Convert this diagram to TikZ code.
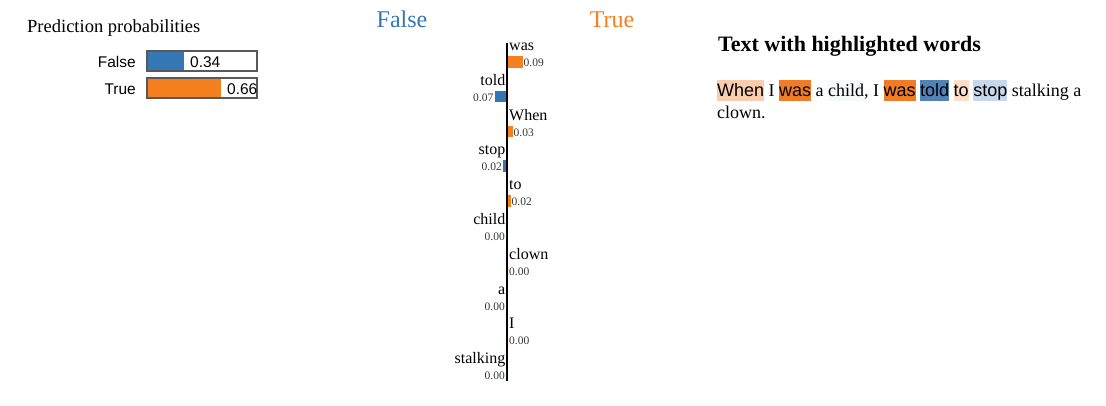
\documentclass[tikz,border=0pt]{standalone}
\usepackage{fontspec}
\setmainfont{Liberation Serif}
\setsansfont{Liberation Sans}
\definecolor{cblue}{RGB}{53,118,180}
\definecolor{corange}{RGB}{245,128,32}
\definecolor{hlWhen}{RGB}{250,205,175}
\definecolor{hlwas}{RGB}{240,124,40}
\definecolor{hlchild}{RGB}{245,248,252}
\definecolor{hltold}{RGB}{80,130,182}
\definecolor{hlto}{RGB}{253,222,198}
\definecolor{hlstop}{RGB}{198,216,234}
\newcommand\hlbox[2]{{\setlength{\fboxsep}{0pt}\colorbox{#1}{\rule[-4.5pt]{0pt}{21pt}#2}}}
\newcommand\hlsans[2]{\hlbox{#1}{\sffamily #2}}
\tikzset{
  sflab/.style={font=\sffamily\fontsize{15.5}{18}\selectfont, inner sep=0pt},
  wordlab/.style={font=\fontsize{16}{19}\selectfont, inner sep=0pt},
  vallab/.style={font=\fontsize{11.5}{13}\selectfont, inner sep=0pt, text=black!80},
  probbox/.style={draw=black!65, line width=1.3pt},
  header/.style={font=\fontsize{24}{28}\selectfont, inner sep=0pt, anchor=base},
}
\begin{document}
\begin{tikzpicture}[x=1pt,y=-1pt]
\useasboundingbox (0,0) rectangle (1106,405);
% ---- prediction probabilities
\node[anchor=base west, inner sep=0pt, font=\fontsize{18.5}{22}\selectfont] (ptitle) at (27,32) {Prediction probabilities};
\node[sflab, anchor=base east] (lfalse) at (136,67.5) {False};
\node[sflab, anchor=base east] (ltrue) at (136,94.5) {True};
\fill[cblue] (147,51) rectangle (184,71);
\draw[probbox] (147,51) rectangle (257,71);
\fill[corange] (147,78) rectangle (221,98);
\draw[probbox] (147,78) rectangle (257,98);
\node[sflab, anchor=base west] (vfalse) at (190,67) {0.34};
\node[sflab, anchor=base west] (vtrue) at (227,94) {0.66};
% ---- explanation chart
\node[header, text=cblue] (hfalse) at (402,27) {False};
\node[header, text=corange] (htrue) at (612,27) {True};
\coordinate (axtop) at (507,43);
\coordinate (axbot) at (507,381);
\draw[line width=2pt] (axtop) -- (axbot);
\foreach \w/\v/\len/\s [count=\i from 0] in {
  was/0.09/14.5/1, told/0.07/11.5/-1, When/0.03/4.5/1, stop/0.02/3/-1, to/0.02/2.5/1,
  child/0.00/0/-1, clown/0.00/0/1, a/0.00/0/-1, I/0.00/0/1, stalking/0.00/0/-1}{
  \pgfmathsetmacro\yt{56+34.8*\i}
  \ifnum\s=1
    \node[wordlab, anchor=base west] (w\i) at (509,\yt-5.5) {\w};
    \fill[corange] (508,\yt) rectangle (508+\len,\yt+11.5);
    \node[vallab, anchor=base west] (v\i) at (509+\len,\yt+10.4) {\v};
  \else
    \node[wordlab, anchor=base east] (w\i) at (505.5,\yt-5.5) {\w};
    \fill[cblue] (506-\len,\yt) rectangle (506,\yt+11.5);
    \node[vallab, anchor=base east] (v\i) at (505-\len,\yt+10.4) {\v};
  \fi
}
% ---- text with highlighted words
\node[anchor=base west, inner sep=0pt, font=\bfseries\fontsize{22}{26}\selectfont] (ttitle) at (718,51.5) {Text with highlighted words};
\node[anchor=base west, inner sep=0pt, font=\fontsize{18}{22}\selectfont] (line1) at (717,96.7)
 {\hlsans{hlWhen}{When} I \hlsans{hlwas}{was} a \hlbox{hlchild}{child}, I \hlsans{hlwas}{was} \hlsans{hltold}{told} \hlsans{hlto}{to} \hlsans{hlstop}{stop} stalking a};
\node[anchor=base west, inner sep=0pt, font=\fontsize{18}{22}\selectfont] (line2) at (717,118.7) {clown.};
\end{tikzpicture}
\end{document}
